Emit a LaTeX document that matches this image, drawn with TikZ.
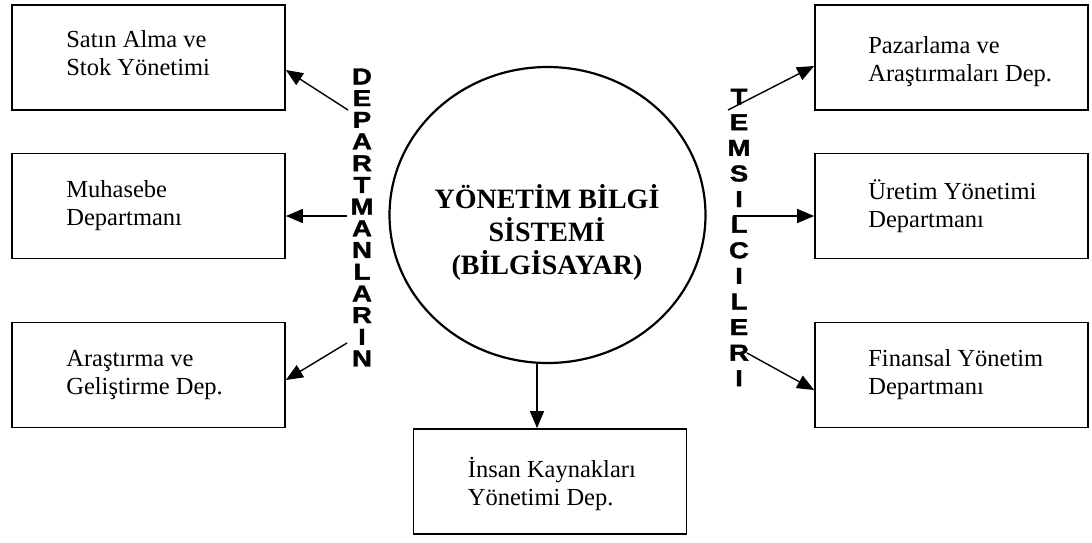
\documentclass[tikz,border=0pt]{standalone}
\usepackage{fontspec}
\setmainfont{Liberation Serif}
\newfontfamily\lsans[FakeStretch=1.2,FakeBold=1.5]{Liberation Sans}
\usetikzlibrary{arrows.meta,shapes.geometric}
\begin{document}
\begin{tikzpicture}[x=1pt,y=-1pt,
  box/.style={draw, line width=1.7pt, minimum width=273pt, minimum height=105pt, inner sep=0pt},
  txt/.style={anchor=west, align=left, inner sep=0pt, font=\fontsize{24.5}{28}\selectfont},
  conn/.style={line width=1.4pt, -{Triangle[length=17pt,width=14pt]}},
  vert/.style={align=center, inner sep=0pt}]
\useasboundingbox (0,0) rectangle (1092,542);
% left boxes
\node[box] (l1) at (148.5,57.5) {};
\node[box] (l2) at (148.5,206) {};
\node[box] (l3) at (148.5,375) {};
\node[txt] (l1t) at ([xshift=55pt,yshift=4pt]l1.west) {Satın Alma ve\\Stok Yönetimi};
\node[txt] (l2t) at ([xshift=55pt]l2.west) {Muhasebe\\Departmanı};
\node[txt] (l3t) at ([xshift=55pt]l3.west) {Araştırma ve\\Geliştirme Dep.};
% right boxes
\node[box] (r1) at (951.5,57.5) {};
\node[box] (r2) at (951.5,206) {};
\node[box] (r3) at (951.5,375) {};
\node[txt] (r1t) at ([xshift=54pt,yshift=-4pt]r1.west) {Pazarlama ve\\Araştırmaları Dep.};
\node[txt] (r2t) at ([xshift=54pt]r2.west) {Üretim Yönetimi\\Departmanı};
\node[txt] (r3t) at ([xshift=54pt]r3.west) {Finansal Yönetim\\Departmanı};
% bottom box
\node[box] (b) at (550,481.5) {};
\node[txt] (bt) at ([xshift=55pt,yshift=-2pt]b.west) {İnsan Kaynakları\\Yönetimi Dep.};
% circle
\node[draw, ellipse, line width=2.2pt, minimum width=316pt, minimum height=296pt, inner sep=0pt] (c) at (547.5,215) {};
\node[align=center, inner sep=0pt, font=\bfseries\fontsize{28}{33}\selectfont] (ct) at (547,232)
  {YÖNETİM BİLGİ\\SİSTEMİ\\(BİLGİSAYAR)};
% vertical labels
\node[vert, font=\lsans\bfseries\fontsize{23}{21.7}\selectfont] (dep) at (362,217.5)
  {D\\E\\P\\A\\R\\T\\M\\A\\N\\L\\A\\R\\I\\N};
\node[vert, font=\lsans\bfseries\fontsize{23}{25.6}\selectfont] (tem) at (739,237.5)
  {T\\E\\M\\S\\I\\L\\C\\I\\L\\E\\R\\I};
% connector tails
\coordinate (a1) at (348,110);
\coordinate (a2) at (347,216);
\coordinate (a3) at (347,343);
\coordinate (b1) at (728,110);
\coordinate (b2) at (733,216);
\coordinate (b3) at (747,353);
% arrows
\draw[conn] (a1) -- (l1.east |- 0,70);
\draw[conn] (a2) -- (l2.east |- a2);
\draw[conn] (a3) -- (l3.east |- 0,380);
\draw[conn] (b1) -- (r1.west |- 0,66);
\draw[conn] (b2) -- (r2.west |- b2);
\draw[conn] (b3) -- (r3.west |- 0,390);
\coordinate (s) at (537,362.5);
\draw[conn] (s) -- (s |- b.north);
\end{tikzpicture}
\end{document}
